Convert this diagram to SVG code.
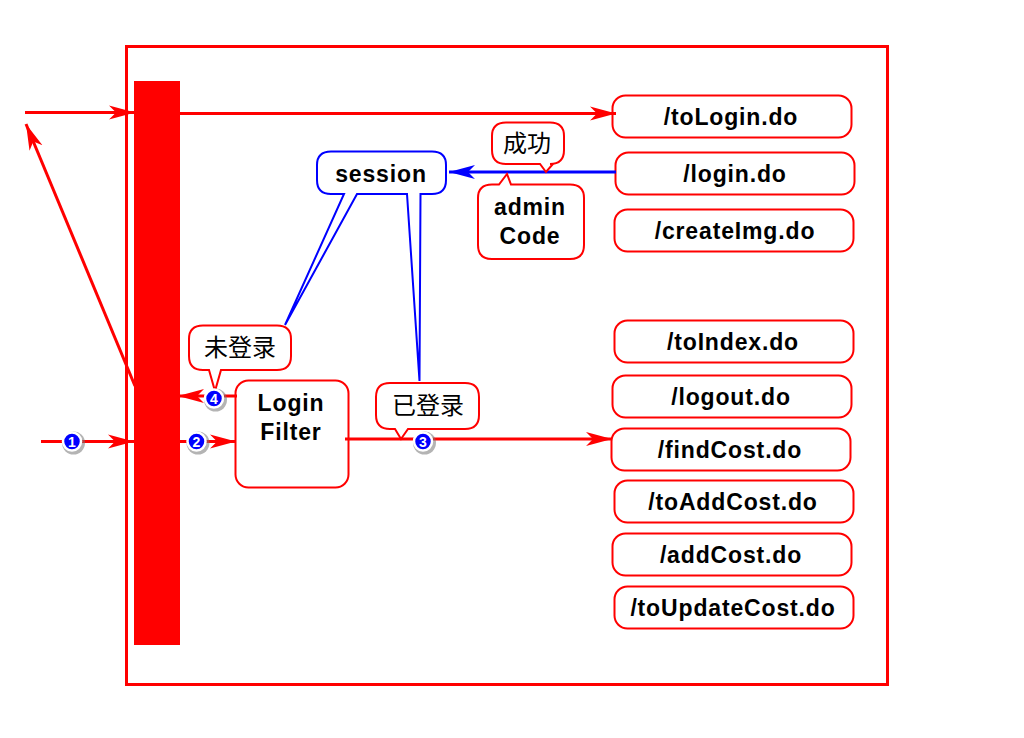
<svg xmlns="http://www.w3.org/2000/svg" width="1024" height="738" viewBox="0 0 1024 738">
<style>
.box{fill:#fff;stroke:#f00;stroke-width:2}
.bl{fill:#fff;stroke:#00f;stroke-width:2}
.t{font:bold 23px "Liberation Sans",Arial,sans-serif;letter-spacing:.85px;fill:#000;text-anchor:middle}
.c{font:24px "Noto Sans CJK SC",sans-serif;fill:#000;text-anchor:middle}
.r{fill:none;stroke:#f00;stroke-width:3}
.b{fill:none;stroke:#00f;stroke-width:3}
.n{font:bold 14px "Liberation Sans",Arial,sans-serif;fill:#fff;text-anchor:middle}
.d{fill:#00f;stroke:#fff;stroke-width:2.500}
.s{fill:#777;opacity:.55}
</style>
<defs>
<marker id="ar" markerUnits="userSpaceOnUse" markerWidth="28" markerHeight="16" refX="26" refY="8" orient="auto" viewBox="0 0 28 16"><path d="M0,1 L26,8 L0,15 L7,8Z" fill="#f00"/></marker>
<marker id="ab" markerUnits="userSpaceOnUse" markerWidth="28" markerHeight="16" refX="26" refY="8" orient="auto" viewBox="0 0 28 16"><path d="M0,1 L26,8 L0,15 L7,8Z" fill="#00f"/></marker>
</defs>
<g id="frame"><rect x="126.500" y="46.500" width="761" height="638" fill="#fff" stroke="#f00" stroke-width="3"/></g>
<g id="filter-bar"><rect x="134" y="81" width="46" height="564" fill="#f00"/></g>
<g id="toLogin"><rect class="box" x="612.500" y="95.500" width="239" height="42" rx="13"/><text class="t" x="731" y="125">/toLogin.do</text></g>
<g id="login"><rect class="box" x="615.500" y="152.500" width="239" height="42" rx="13"/><text class="t" x="735" y="182">/login.do</text></g>
<g id="createImg"><rect class="box" x="614.500" y="209.500" width="239" height="42" rx="13"/><text class="t" x="735" y="239">/createImg.do</text></g>
<g id="toIndex"><rect class="box" x="614.500" y="320.500" width="239" height="42" rx="13"/><text class="t" x="733" y="350">/toIndex.do</text></g>
<g id="logout"><rect class="box" x="612.500" y="375.500" width="239" height="42" rx="13"/><text class="t" x="731" y="405">/logout.do</text></g>
<g id="findCost"><rect class="box" x="611.500" y="428.500" width="239" height="42" rx="13"/><text class="t" x="730" y="458">/findCost.do</text></g>
<g id="toAddCost"><rect class="box" x="614.500" y="480.500" width="239" height="42" rx="13"/><text class="t" x="733" y="510">/toAddCost.do</text></g>
<g id="addCost"><rect class="box" x="612.500" y="533.500" width="239" height="42" rx="13"/><text class="t" x="731" y="563">/addCost.do</text></g>
<g id="toUpdateCost"><rect class="box" x="614.500" y="586.500" width="239" height="42" rx="13"/><text class="t" x="733" y="616">/toUpdateCost.do</text></g>
<g id="loginFilter"><rect class="box" x="235.500" y="380.500" width="113" height="107" rx="13"/><text class="t" x="291" y="411">Login</text><text class="t" x="291" y="440">Filter</text></g>
<g id="connectors">
<path class="r" d="M25,112.500H135" marker-end="url(#ar)"/>
<path class="r" d="M180,113.500H616" marker-end="url(#ar)"/>
<path class="r" d="M135,386L26,124" marker-end="url(#ar)"/>
<path class="r" d="M41,441.500H134" marker-end="url(#ar)"/>
<path class="r" d="M180,441.500H236" marker-end="url(#ar)"/>
<path class="r" d="M237,396H178" marker-end="url(#ar)"/>
<path class="r" d="M345,439H612" marker-end="url(#ar)"/>
<path class="b" d="M616,172H449" marker-end="url(#ab)"/>
</g>
<g id="session"><path class="bl" d="M331,151.500H432Q446,151.500 446,165V180Q446,194 432,194H420.500L419.500,381L407,194H357L285,325L344,194H331Q317,194 317,180V165Q317,151.500 331,151.500Z"/><text class="t" x="381" y="182">session</text></g>
<g id="success"><path class="box" d="M506,122.500H550Q564,122.500 564,136V150Q564,164 550,164H553L546,172L540,164H506Q492,164 492,150V136Q492,122.500 506,122.500Z"/><text class="c" x="527" y="152">成功</text></g>
<g id="adminCode"><path class="box" d="M492,184.500H499L507,174L511,184.500H570Q584,184.500 584,198V245Q584,259 570,259H492Q478,259 478,245V198Q478,184.500 492,184.500Z"/><text class="t" x="530" y="215">admin</text><text class="t" x="530" y="244">Code</text></g>
<g id="notLogged"><path class="box" d="M203,325.500H277Q291,325.500 291,339V356Q291,370 277,370H221L215,391L209,370H203Q189,370 189,356V339Q189,325.500 203,325.500Z"/><text class="c" x="240" y="356">未登录</text></g>
<g id="logged"><path class="box" d="M390,383H465Q479,383 479,397V415Q479,429 465,429H408L401,439L395,429H390Q376,429 376,415V397Q376,383 390,383Z"/><text class="c" x="428" y="414">已登录</text></g>
<g id="badge1"><circle class="s" cx="73.500" cy="443" r="11.500"/><circle class="d" cx="72" cy="441.500" r="9"/><text class="n" x="72" y="446.500">1</text></g>
<g id="badge2"><circle class="s" cx="198" cy="443" r="11.500"/><circle class="d" cx="196.500" cy="441.500" r="9"/><text class="n" x="196.500" y="446.500">2</text></g>
<g id="badge3"><circle class="s" cx="424.500" cy="443" r="11.500"/><circle class="d" cx="423" cy="441.500" r="9"/><text class="n" x="423" y="446.500">3</text></g>
<g id="badge4"><circle class="s" cx="215.500" cy="400" r="11.500"/><circle class="d" cx="214" cy="398.500" r="9"/><text class="n" x="214" y="403.500">4</text></g>
</svg>
